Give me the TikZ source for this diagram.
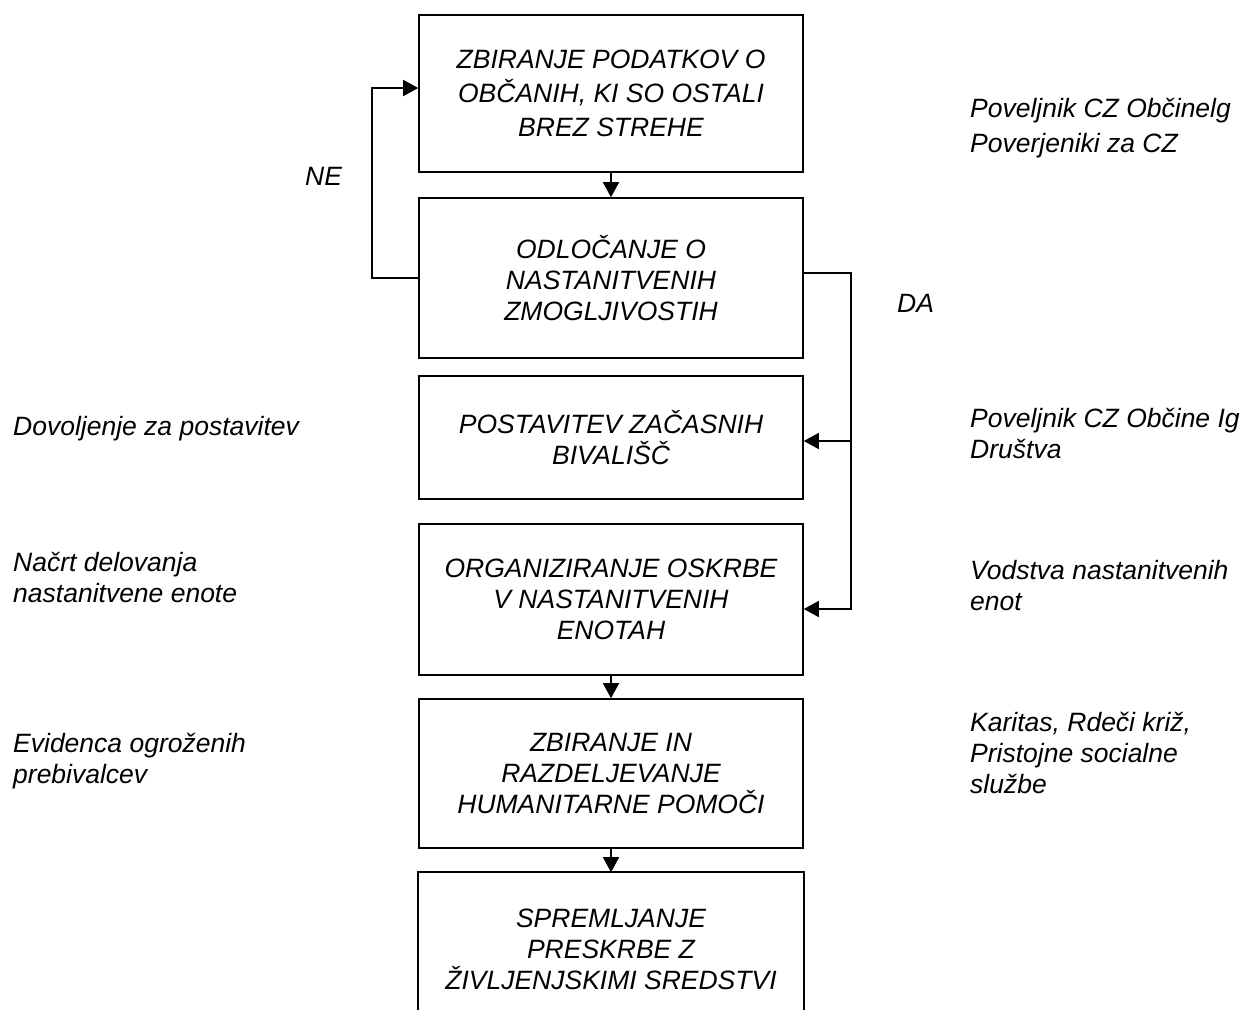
\documentclass[tikz,border=0pt]{standalone}
\usepackage{fontspec}
\setmainfont{Liberation Sans}
\usetikzlibrary{arrows.meta}
\begin{document}
\begin{tikzpicture}[x=1pt,y=-1pt,
  every node/.style={font=\fontsize{26.5}{31}\selectfont\itshape, inner sep=0pt},
  box/.style={draw, line width=1.6pt, minimum width=384pt, align=center},
  lbl/.style={align=left, anchor=base west},
  conn/.style={line width=1.6pt},
  arr/.style={conn, -{Triangle[length=15pt,width=16pt]}}]
\useasboundingbox (0,0) rectangle (1242,1010);
\node[box, minimum height=157pt] (b1) at (611,93.5) {ZBIRANJE PODATKOV O\\[3pt]OBČANIH, KI SO OSTALI\\[3pt]BREZ STREHE};
\node[box, minimum height=160pt] (b2) at (611,278) {ODLOČANJE O\\NASTANITVENIH\\ZMOGLJIVOSTIH};
\node[box, minimum height=123pt] (b3) at (611,437.5) {POSTAVITEV ZAČASNIH\\BIVALIŠČ};
\node[box, minimum height=151pt] (b4) at (611,599.5) {ORGANIZIRANJE OSKRBE\\V NASTANITVENIH\\ENOTAH};
\node[box, minimum height=149pt] (b5) at (611,773.5) {ZBIRANJE IN\\RAZDELJEVANJE\\HUMANITARNE POMOČI};
\node[box, draw=none, minimum height=152pt] (b6) at (611,949) {SPREMLJANJE\\PRESKRBE Z\\ŽIVLJENJSKIMI SREDSTVI};
\coordinate (pb) at (0,1010);
\draw[conn] (b6.south west |- pb) -- (b6.north west) -- (b6.north east) -- (b6.south east |- pb);

\draw[arr] (b1.south) -- (b2.north);
\draw[arr] (b4.south) -- (b5.north);
\draw[arr] (b5.south) -- (b6.north);

\coordinate (ne) at (372,88);
\draw[arr] (b2.west) -| (ne) -- (ne -| b1.west);
\coordinate (da) at (851,609);
\coordinate (db) at (851,441);
\draw[arr] ([yshift=5pt]b2.east) -| (da) -- (da -| b4.east);
\draw[arr] (db) -- (db -| b3.east);

\node[lbl] (ne-l) at (305,185) {NE};
\node[lbl] (da-l) at (897,312) {DA};
\node[lbl] (r1) at (970,152) {Poveljnik CZ Občinelg\\[4pt]Poverjeniki za CZ};
\node[lbl] (l1) at (13,435) {Dovoljenje za postavitev};
\node[lbl] (r2) at (970,458) {Poveljnik CZ Občine Ig\\Društva};
\node[lbl] (l2) at (13,602) {Načrt delovanja\\nastanitvene enote};
\node[lbl] (r3) at (970,610) {Vodstva nastanitvenih\\enot};
\node[lbl] (l3) at (13,783) {Evidenca ogroženih\\prebivalcev};
\node[lbl] (r4) at (970,793) {Karitas, Rdeči križ,\\Pristojne socialne\\službe};
\end{tikzpicture}
\end{document}
